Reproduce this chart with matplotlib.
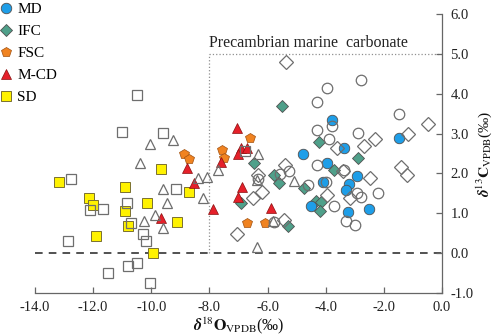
import matplotlib
matplotlib.use("Agg")
import matplotlib.pyplot as plt
from matplotlib.lines import Line2D

plt.rcParams['font.family'] = ['Liberation Serif', 'DejaVu Serif']
plt.rcParams['mathtext.fontset'] = 'stix'

# ---- data ----
md_x = [-3.78, -3.37, -1.48, -4.78, -3.95, -2.92, -4.09, -3.20, -3.30, -4.50, -3.23, -2.51]
md_y = [3.35, 2.65, 2.90, 2.48, 2.25, 1.93, 1.78, 1.73, 1.58, 1.18, 1.03, 1.10]

ifc_x = [-5.50, -4.23, -2.89, -6.46, -5.77, -5.60, -3.71, -4.74, -4.33, -4.16, -4.19, -5.29, -6.91]
ifc_y = [3.70, 2.78, 2.38, 2.25, 1.95, 1.75, 2.08, 1.63, 1.30, 1.28, 1.05, 0.68, 1.25]

fsc_x = [-8.87, -8.69, -7.56, -7.49, -6.60, -6.70, -6.08]
fsc_y = [2.50, 2.35, 2.60, 2.38, 2.88, 0.75, 0.75]

mcd_x = [-7.04, -6.91, -6.70, -7.01, -7.59, -8.76, -8.52, -6.87, -7.01, -7.87, -5.88, -9.66]
mcd_y = [3.13, 2.65, 2.65, 2.48, 2.28, 2.13, 1.75, 1.65, 1.40, 1.10, 1.13, 0.88]

sd_x = [-13.16, -9.66, -10.89, -12.13, -11.99, -10.14, -10.89, -8.69, -10.79, -9.11, -11.89, -9.93]
sd_y = [1.78, 2.10, 1.65, 1.38, 1.20, 1.25, 1.05, 1.53, 0.68, 0.78, 0.43, 0.00]

osq_x = [-10.48, -11.00, -9.59, -12.75, -9.14, -10.82, -11.65, -12.10, -10.69, -10.27,
         -10.17, -12.85, -10.48, -10.79, -11.48, -10.03, -6.77]
osq_y = [3.98, 3.05, 3.02, 1.85, 1.60, 1.27, 1.12, 1.07, 0.75, 0.47,
         0.30, 0.30, -0.25, -0.32, -0.50, -0.75, 2.57]

otri_x = [-10.03, -9.24, -10.38, -9.59, -9.45, -9.86, -10.24, -9.59, -8.38, -8.08,
          -8.21, -7.70, -6.32, -5.09, -6.36, -6.36, -5.81]
otri_y = [2.75, 2.85, 2.25, 1.60, 1.25, 0.95, 0.80, 0.62, 1.88, 1.90,
          1.38, 2.08, 2.50, 1.80, 1.83, 0.15, 0.80]

ocir_x = [-3.95, -2.78, -4.30, -1.48, -4.30, -3.78, -2.89, -3.88, -4.30, -3.37,
          -4.60, -3.99, -2.92, -2.78, -2.20, -3.71, -3.30, -2.99, -5.26, -6.32,
          -5.77, -5.57]
ocir_y = [4.15, 4.35, 3.78, 3.50, 3.10, 3.20, 3.02, 2.87, 2.20, 2.08,
          1.70, 1.78, 1.50, 1.40, 1.50, 1.18, 0.80, 0.70, 2.05, 1.85,
          0.78, 1.98]

odia_x = [-5.36, -0.48, -1.17, -2.30, -2.68, -3.61, -5.40, -1.41, -1.20, -2.47,
          -3.40, -3.95, -3.16, -6.49, -6.19, -5.43, -6.32, -7.04]
odia_y = [4.80, 3.25, 3.00, 2.87, 2.68, 2.65, 2.20, 2.15, 1.95, 1.88,
          2.05, 1.45, 1.38, 1.38, 1.53, 0.83, 1.95, 0.47]

labels = ['MD', 'IFC', 'FSC', 'M-CD', 'SD']
colors = ['#1E9EE8', '#4FA08A', '#F08321', '#E5202A', '#FFF200']
box_x0, box_y1 = -8.0, 5.0
box_label = 'Precambrian marine  carbonate'

# ---- figure ----
fig = plt.figure(figsize=(4.98, 3.36), dpi=100)
ax = fig.add_axes([35/498, 1-293/336, (442-35)/498, (293-14)/336])

ax.set_xlim(-14, 0)
ax.set_ylim(-1, 6)

edge_open = '#6E6E6E'
edge_fill = '#505050'
ms = 7.2

# colored series
ax.plot(sd_x, sd_y, 's', ms=ms, mfc=colors[4], mec='#7A7030', mew=0.7, zorder=3)
ax.plot(ifc_x, ifc_y, 'D', ms=ms*0.85, mfc=colors[1], mec=edge_fill, mew=0.6, zorder=3)
ax.plot(md_x, md_y, 'o', ms=ms*1.05, mfc=colors[0], mec=edge_fill, mew=0.6, zorder=3)
ax.plot(fsc_x, fsc_y, 'p', ms=ms*1.05, mfc=colors[2], mec='#A05010', mew=0.5, zorder=3)
ax.plot(mcd_x, mcd_y, '^', ms=ms*1.05, mfc=colors[3], mec='#8A1010', mew=0.5, zorder=4)

# open series
ax.plot(osq_x, osq_y, 's', ms=ms*1.05, mfc='none', mec=edge_open, mew=0.9, zorder=5)
ax.plot(otri_x, otri_y, '^', ms=ms*1.0, mfc='none', mec=edge_open, mew=0.9, zorder=5)
ax.plot(ocir_x, ocir_y, 'o', ms=ms*1.05, mfc='none', mec=edge_open, mew=0.9, zorder=5)
ax.plot(odia_x, odia_y, 'D', ms=ms*0.95, mfc='none', mec=edge_open, mew=0.9, zorder=5)

# reference lines
ax.axhline(0, color='#222222', lw=1.1, ls=(0, (5, 4)), zorder=1)
ax.plot([box_x0, box_x0], [0, box_y1], color='#909090', lw=0.9, ls=':', zorder=1)
ax.plot([box_x0, 0], [box_y1, box_y1], color='#909090', lw=0.9, ls=':', zorder=1)
ax.text(box_x0, box_y1 + 0.08, box_label, fontsize=11.5, color='#222222',
        ha='left', va='bottom')

# spines & ticks
for s in ['top', 'left']:
    ax.spines[s].set_visible(False)
for s in ['bottom', 'right']:
    ax.spines[s].set_color('#666666')
    ax.spines[s].set_linewidth(0.9)
ax.yaxis.tick_right()
ax.yaxis.set_label_position('right')
ax.set_xticks([-14, -12, -10, -8, -6, -4, -2, 0])
ax.set_xticklabels(['-14.0', '-12.0', '-10.0', '-8.0', '-6.0', '-4.0', '-2.0', '0.0'])
ax.set_yticks([-1, 0, 1, 2, 3, 4, 5, 6])
ax.set_yticklabels(['-1.0', '0.0', '1.0', '2.0', '3.0', '4.0', '5.0', '6.0'])
ax.tick_params(direction='in', length=4, width=0.9, color='#666666',
               labelsize=10.5, labelcolor='#222222')
ax.tick_params(axis='x', pad=6)
ax.tick_params(axis='y', pad=6)

ax.set_xlabel(r'$\boldsymbol{\delta}^{18}\mathbf{O}_{\mathrm{VPDB}}$(‰)', fontsize=11.5,
              labelpad=1, color='#111111')
ax.set_ylabel(r'$\boldsymbol{\delta}^{13}\mathbf{C}_{\mathrm{VPDB}}$(‰)', fontsize=11,
              labelpad=1, color='#111111', rotation=90)

# legend
handles = [
    Line2D([], [], ls='none', marker='o', ms=ms*1.05, mfc=colors[0], mec=edge_fill, mew=0.6),
    Line2D([], [], ls='none', marker='D', ms=ms*0.85, mfc=colors[1], mec=edge_fill, mew=0.6),
    Line2D([], [], ls='none', marker='p', ms=ms*1.05, mfc=colors[2], mec='#A05010', mew=0.5),
    Line2D([], [], ls='none', marker='^', ms=ms*1.05, mfc=colors[3], mec='#8A1010', mew=0.5),
    Line2D([], [], ls='none', marker='s', ms=ms, mfc=colors[4], mec='#7A7030', mew=0.7),
]
fig.legend(handles, labels, loc='upper left', bbox_to_anchor=(-0.022, 1.025),
           frameon=False, fontsize=11, handlelength=0.8, handletextpad=0.35,
           labelspacing=0.55, borderpad=0.2)

fig.savefig('out.png', dpi=100)
